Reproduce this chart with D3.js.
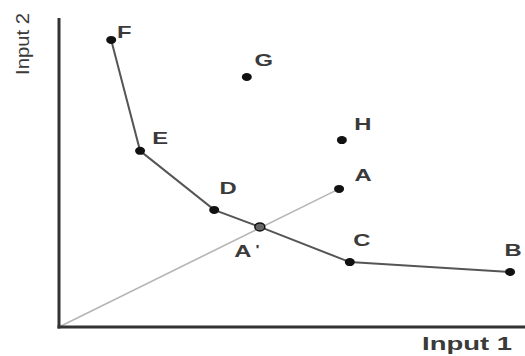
<!DOCTYPE html>
<html>
<head>
<meta charset="utf-8">
<script src="https://cdn.jsdelivr.net/npm/d3@7"></script>
<style>
  body { margin: 0; background: #fff; }
  svg text { font-family: "Liberation Sans", Arial, sans-serif; fill: #3a3a3a; }
</style>
</head>
<body>
<div id="chart"></div>
<script>
// isoquant chart - input 1 vs input 2

const curveNames = ["F", "E", "D", "A'", "C", "B"];
const curveX = [11.2, 17.4, 33.3, 43.1, 62.4, 96.8];
const curveY = [92.9, 57.0, 37.9, 32.4, 21.0, 17.8];

const otherNames = ["A", "G", "H"];
const otherX = [60.1, 40.3, 60.7];
const otherY = [44.7, 80.9, 60.5];

const xLabel = "Input 1";
const yLabel = "Input 2";

const width = 525, height = 356;
const margin = { top: 18, right: 0, bottom: 29, left: 59 };

const svg = d3.select("#chart")
    .append("svg")
    .attr("width", width)
    .attr("height", height);

const x = d3.scaleLinear().domain([0, 100]).range([margin.left, width - margin.right]);
const y = d3.scaleLinear().domain([0, 100]).range([height - margin.bottom, margin.top]);

// label offsets in px from each point
const labelOffset = {
    "F": [13, -8], "E": [20, -13], "D": [14, -22], "A'": [-13, 24],
    "C": [12, -22], "B": [3, -22], "A": [24, -14], "G": [17, -17], "H": [21, -16]
};

const curve = curveNames.map((n, i) => ({ name: n, x: curveX[i], y: curveY[i] }));
const others = otherNames.map((n, i) => ({ name: n, x: otherX[i], y: otherY[i] }));
const rayEnd = others.find(d => d.name === "A");

// ray from origin through A' to A
svg.append("line")
    .attr("x1", x(0)).attr("y1", y(0))
    .attr("x2", x(rayEnd.x)).attr("y2", y(rayEnd.y))
    .attr("stroke", "#b5b5b5")
    .attr("stroke-width", 1.6);

// axes as plain lines
svg.append("line")
    .attr("x1", x(0)).attr("y1", y(100))
    .attr("x2", x(0)).attr("y2", y(0) + 1.5)
    .attr("stroke", "#333").attr("stroke-width", 3);
svg.append("line")
    .attr("x1", x(0) - 1.5).attr("y1", y(0))
    .attr("x2", x(100)).attr("y2", y(0))
    .attr("stroke", "#333").attr("stroke-width", 3);

// isoquant
svg.append("path")
    .datum(curve)
    .attr("d", d3.line().x(d => x(d.x)).y(d => y(d.y)))
    .attr("fill", "none")
    .attr("stroke", "#555")
    .attr("stroke-width", 2);

const allPts = curve.concat(others);

svg.selectAll(".pt")
    .data(allPts)
    .enter()
    .append("ellipse")
    .attr("class", "pt")
    .attr("cx", d => x(d.x))
    .attr("cy", d => y(d.y))
    .attr("rx", 5)
    .attr("ry", 4)
    .attr("fill", d => d.name === "A'" ? "#666" : "#111")
    .attr("stroke", "#111")
    .attr("stroke-width", d => d.name === "A'" ? 1.5 : 0);

// letters in the reference are stretched sideways
const lbl = svg.selectAll(".lbl")
    .data(allPts)
    .enter()
    .append("text")
    .attr("class", "lbl")
    .attr("transform", d => `translate(${x(d.x) + labelOffset[d.name][0]}, ${y(d.y) + labelOffset[d.name][1]}) scale(1.4, 1)`)
    .attr("text-anchor", "middle")
    .attr("dy", "0.35em")
    .style("font-size", "17px")
    .style("font-weight", "bold");

lbl.filter(d => d.name !== "A'").text(d => d.name);
const ap = lbl.filter(d => d.name === "A'");
ap.append("tspan").text("A");
ap.append("tspan")
    .attr("dx", 3)
    .attr("dy", -3)
    .style("font-size", "12px")
    .text("'");

svg.append("text")
    .attr("x", 512)
    .attr("y", 350)
    .attr("text-anchor", "end")
    .style("font-size", "19px")
    .style("font-weight", "bold")
    .attr("textLength", 90)
    .attr("lengthAdjust", "spacingAndGlyphs")
    .text(xLabel);

svg.append("text")
    .attr("transform", "translate(29, 44) rotate(-90)")
    .attr("text-anchor", "middle")
    .style("font-size", "19px")
    .attr("textLength", 62)
    .attr("lengthAdjust", "spacingAndGlyphs")
    .text(yLabel);
</script>
</body>
</html>
